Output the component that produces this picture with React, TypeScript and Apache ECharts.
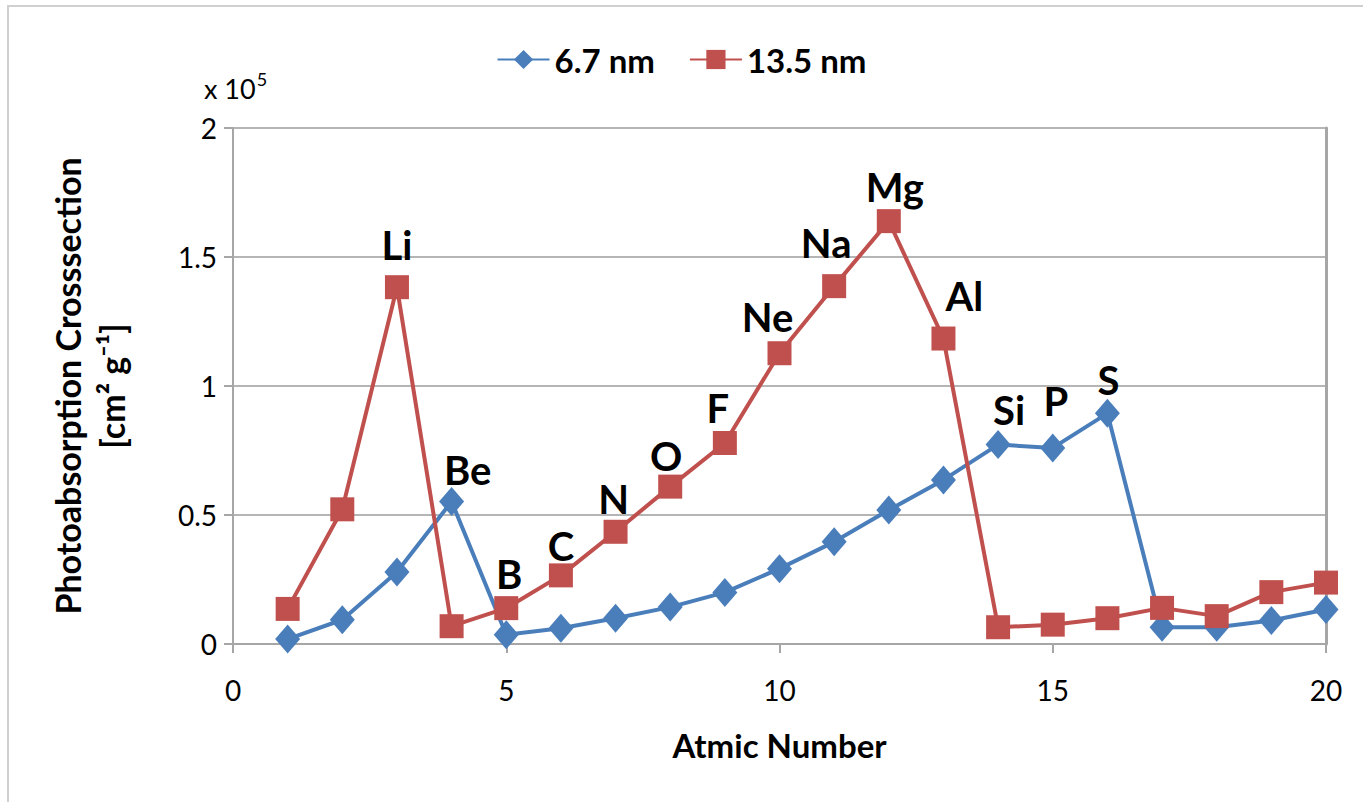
import React, { useEffect, useRef } from "react";
import * as echarts from "echarts";

// Atomic numbers (x values)
const atomicNumbers = [1, 2, 3, 4, 5, 6, 7, 8, 9, 10, 11, 12, 13, 14, 15, 16, 17, 18, 19, 20];

// Photoabsorption cross-section, in units of 1e5 cm^2 g^-1
const values67nm = [0.019, 0.094, 0.279, 0.552, 0.036, 0.061, 0.100, 0.143, 0.200, 0.292, 0.396, 0.519, 0.636, 0.773, 0.760, 0.894, 0.065, 0.065, 0.091, 0.134];
const values135nm = [0.136, 0.522, 1.383, 0.069, 0.139, 0.266, 0.435, 0.610, 0.779, 1.127, 1.387, 1.639, 1.184, 0.065, 0.075, 0.100, 0.140, 0.108, 0.201, 0.238];

// Element labels placed on each series ('' = no label)
const labels67nm = ["", "", "", "Be", "", "", "", "", "", "", "", "", "", "Si", "P", "S", "", "", "", ""];
const labels135nm = ["", "", "Li", "", "B", "C", "N", "O", "F", "Ne", "Na", "Mg", "Al", "", "", "", "", "", "", ""];

const seriesNames = ["6.7 nm", "13.5 nm"];
const xTicks = [0, 5, 10, 15, 20];
const yTicks = [0, 0.5, 1, 1.5, 2];

// label offsets (styling)
const labelOffsets: Record<string, [number, number]> = {
  Li: [0, -10],
  Be: [16, 3],
  B: [3, -2],
  C: [0, 3],
  N: [-2, -1],
  O: [-4, 1],
  F: [-7, -3],
  Ne: [-12, -4],
  Na: [-8, -11],
  Mg: [6, -2],
  Al: [21, -11],
  Si: [11, 0],
  P: [3, -12],
  S: [1, 1],
};

const FONT = "Lato, 'Open Sans', sans-serif";

function buildData(values: number[], labels: string[]) {
  return atomicNumbers.map((x, i) => {
    const lab = labels[i];
    const item: any = { value: [x, values[i]] };
    if (lab) {
      item.label = {
        show: true,
        formatter: lab,
        position: "top",
        distance: 0,
        offset: labelOffsets[lab] || [0, 0],
        fontFamily: FONT,
        fontWeight: "bold",
        fontSize: 40,
        color: "#000",
      };
    }
    return item;
  });
}

export default function App() {
  const ref = useRef<HTMLDivElement>(null);
  useEffect(() => {
    document.body.style.margin = "0";
    if (!ref.current) return;
    const chart = echarts.init(ref.current, null, { renderer: "svg" });
    const option: any = {
      animation: false,
      backgroundColor: "#fff",
      textStyle: { fontFamily: FONT },
      graphic: [
        {
          type: "rect",
          shape: { x: 8, y: 6, width: 1380, height: 820 },
          style: { fill: "none", stroke: "#d0d0d0", lineWidth: 2 },
          silent: true,
        },
        {
          type: "text",
          left: 204,
          top: 70,
          style: {
            text: "{a|x 10}{b|5}",
            rich: {
              a: { fontFamily: FONT, fontSize: 27, fill: "#000", verticalAlign: "bottom" },
              b: { fontFamily: FONT, fontSize: 18, fill: "#000", verticalAlign: "top", padding: [0, 0, 14, 1] },
            },
          },
        },
      ],
      legend: {
        top: 38,
        left: "center",
        itemWidth: 52,
        itemHeight: 24,
        itemGap: 34,
        textStyle: { fontFamily: FONT, fontSize: 33, fontWeight: "bold", color: "#000" },
        data: seriesNames,
      },
      grid: { left: 233, right: 37, top: 128, bottom: 158, containLabel: false },
      xAxis: {
        type: "value",
        min: xTicks[0],
        max: xTicks[xTicks.length - 1],
        interval: 5,
        name: "Atmic Number",
        nameLocation: "middle",
        nameGap: 84,
        nameTextStyle: { fontFamily: FONT, fontSize: 33, fontWeight: "bold", color: "#000" },
        axisLine: { show: true, lineStyle: { color: "#a6a6a6", width: 2 } },
        axisTick: { show: true, length: 9, lineStyle: { color: "#a6a6a6", width: 2 } },
        axisLabel: { fontFamily: FONT, fontSize: 28, color: "#000", margin: 32 },
        splitLine: { show: false },
      },
      yAxis: [
        {
          type: "value",
          min: yTicks[0],
          max: yTicks[yTicks.length - 1],
          interval: 0.5,
          name: "Photoabsorption Crosssection\n[cm² g⁻¹]",
          nameLocation: "middle",
          nameGap: 100,
          nameRotate: 90,
          nameTextStyle: { fontFamily: FONT, fontSize: 34, fontWeight: "bold", color: "#000", lineHeight: 44 },
          axisLine: { show: true, lineStyle: { color: "#a6a6a6", width: 2 } },
          axisTick: { show: true, length: 9, lineStyle: { color: "#a6a6a6", width: 2 } },
          axisLabel: { fontFamily: FONT, fontSize: 28, color: "#000", margin: 16 },
          splitLine: { show: true, lineStyle: { color: "#b5b5b5", width: 2 } },
        },
        {
          type: "value",
          position: "right",
          min: yTicks[0],
          max: yTicks[yTicks.length - 1],
          interval: 0.5,
          axisLine: { show: true, lineStyle: { color: "#a6a6a6", width: 3 } },
          axisTick: { show: false },
          axisLabel: { show: false },
          splitLine: { show: false },
        },
      ],
      series: [
        {
          name: seriesNames[0],
          type: "line",
          data: buildData(values67nm, labels67nm),
          symbol: "diamond",
          symbolSize: [25, 29],
          itemStyle: { color: "#4a7ebb" },
          lineStyle: { color: "#4a7ebb", width: 4 },
          z: 2,
        },
        {
          name: seriesNames[1],
          type: "line",
          data: buildData(values135nm, labels135nm),
          symbol: "rect",
          symbolSize: 24,
          itemStyle: { color: "#c0504d" },
          lineStyle: { color: "#c0504d", width: 4 },
          z: 3,
        },
      ],
    };
    chart.setOption(option);
    return () => chart.dispose();
  }, []);
  return <div ref={ref} style={{ width: 1363, height: 802 }} />;
}
